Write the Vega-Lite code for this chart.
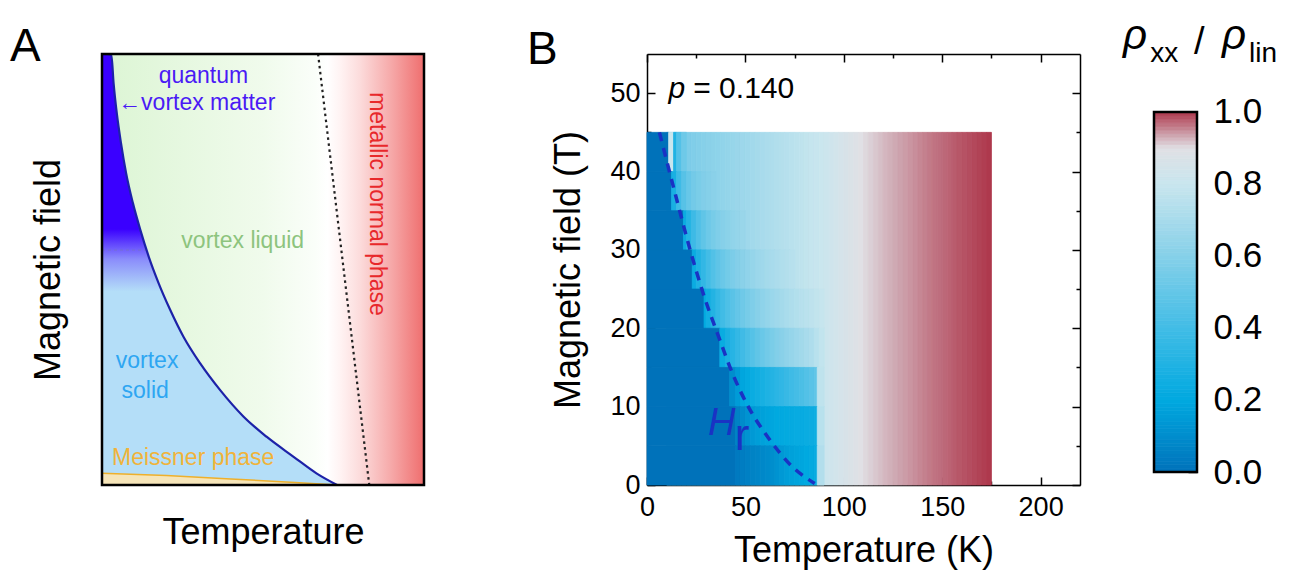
{
  "$schema": "https://vega.github.io/schema/vega-lite/v6.json",
  "background": "white",
  "padding": {"left": 10, "top": 14, "right": 5, "bottom": 5},
  "spacing": 74,
  "bounds": "flush",
  "config": {
    "font": "Liberation Sans",
    "view": {"stroke": null},
    "axis": {"grid": false, "labelFlush": false, "labelOverlap": false, "zindex": 1, "domainColor": "#000", "tickColor": "#000", "labelColor": "#000", "titleColor": "#000", "titleFontWeight": "normal", "titleFont": "Liberation Sans", "labelFont": "Liberation Sans", "domainWidth": 1.5, "tickWidth": 1.5},
    "title": {"fontWeight": "normal", "color": "#000", "font": "Liberation Sans"},
    "text": {"font": "Liberation Sans"}
  },
  "datasets": {
    "box": [{"x": 0, "x2": 1, "y": 0, "y2": 1}],
    "curve": [
      {"x": 0, "y": 1}, {"x": 0.029, "y": 0.998}, {"x": 0.036, "y": 0.932}, {"x": 0.046, "y": 0.862}, {"x": 0.059, "y": 0.793}, {"x": 0.075, "y": 0.723}, {"x": 0.096, "y": 0.654}, {"x": 0.119, "y": 0.592}, {"x": 0.145, "y": 0.53}, {"x": 0.176, "y": 0.468}, {"x": 0.212, "y": 0.406}, {"x": 0.253, "y": 0.344}, {"x": 0.305, "y": 0.282}, {"x": 0.367, "y": 0.22}, {"x": 0.439, "y": 0.159}, {"x": 0.511, "y": 0.112}, {"x": 0.594, "y": 0.066}, {"x": 0.666, "y": 0.027}, {"x": 0.73, "y": 0}
    ],
    "quantum": [
      {"x": 0, "y": 1}, {"x": 0.029, "y": 0.998}, {"x": 0.036, "y": 0.932}, {"x": 0.046, "y": 0.862}, {"x": 0.059, "y": 0.793}, {"x": 0.075, "y": 0.723}, {"x": 0.096, "y": 0.654}, {"x": 0.119, "y": 0.592}, {"x": 0.145, "y": 0.53}, {"x": 0.176, "y": 0.468}, {"x": 0.2, "y": 0.42}
    ],
    "meissner": [
      {"x": 0, "y": 0.027}, {"x": 0.2, "y": 0.022}, {"x": 0.4, "y": 0.014}, {"x": 0.6, "y": 0.006}, {"x": 0.73, "y": 0}
    ],
    "crossover": [{"x": 0.671, "y": 1}, {"x": 0.83, "y": 0}],
    "hr": [
      {"T": 6.3, "H": 45}, {"T": 14.5, "H": 37}, {"T": 21.8, "H": 30.1}, {"T": 29, "H": 24.1}, {"T": 36.3, "H": 19}, {"T": 43.5, "H": 14.2}, {"T": 50.8, "H": 10.3}, {"T": 61.7, "H": 6}, {"T": 74.4, "H": 2.2}, {"T": 85.2, "H": 0.2}
    ],
    "heat": [
      {"t": 10, "t2": 12.5, "h": 0, "h2": 45, "r": 0.54}, {"t": 12.5, "t2": 15, "h": 0, "h2": 45, "r": 0.549}, {"t": 15, "t2": 17.5, "h": 0, "h2": 45, "r": 0.557}, {"t": 17.5, "t2": 20, "h": 0, "h2": 45, "r": 0.566}, {"t": 20, "t2": 22.5, "h": 0, "h2": 45, "r": 0.574}, {"t": 22.5, "t2": 25, "h": 0, "h2": 45, "r": 0.583}, {"t": 25, "t2": 27.5, "h": 0, "h2": 45, "r": 0.591}, {"t": 27.5, "t2": 30, "h": 0, "h2": 45, "r": 0.6}, {"t": 30, "t2": 32.5, "h": 0, "h2": 45, "r": 0.608}, {"t": 32.5, "t2": 35, "h": 0, "h2": 45, "r": 0.617}, {"t": 35, "t2": 37.5, "h": 0, "h2": 45, "r": 0.625}, {"t": 37.5, "t2": 40, "h": 0, "h2": 45, "r": 0.634}, {"t": 40, "t2": 42.5, "h": 0, "h2": 45, "r": 0.642}, {"t": 42.5, "t2": 45, "h": 0, "h2": 45, "r": 0.651}, {"t": 45, "t2": 47.5, "h": 0, "h2": 45, "r": 0.659}, {"t": 47.5, "t2": 50, "h": 0, "h2": 45, "r": 0.668}, {"t": 50, "t2": 52.5, "h": 0, "h2": 45, "r": 0.676}, {"t": 52.5, "t2": 55, "h": 0, "h2": 45, "r": 0.685}, {"t": 55, "t2": 57.5, "h": 0, "h2": 45, "r": 0.693}, {"t": 57.5, "t2": 60, "h": 0, "h2": 45, "r": 0.702}, {"t": 60, "t2": 62.5, "h": 0, "h2": 45, "r": 0.71}, {"t": 62.5, "t2": 65, "h": 0, "h2": 45, "r": 0.719}, {"t": 65, "t2": 67.5, "h": 0, "h2": 45, "r": 0.727}, {"t": 67.5, "t2": 70, "h": 0, "h2": 45, "r": 0.736}, {"t": 70, "t2": 72.5, "h": 0, "h2": 45, "r": 0.744}, {"t": 72.5, "t2": 75, "h": 0, "h2": 45, "r": 0.753}, {"t": 75, "t2": 77.5, "h": 0, "h2": 45, "r": 0.761}, {"t": 77.5, "t2": 80, "h": 0, "h2": 45, "r": 0.77}, {"t": 80, "t2": 82.5, "h": 0, "h2": 45, "r": 0.778}, {"t": 82.5, "t2": 85, "h": 0, "h2": 45, "r": 0.787}, {"t": 85, "t2": 87.5, "h": 0, "h2": 45, "r": 0.795}, {"t": 87.5, "t2": 90, "h": 0, "h2": 45, "r": 0.804},
      {"t": 90, "t2": 92.5, "h": 0, "h2": 45, "r": 0.815}, {"t": 92.5, "t2": 95, "h": 0, "h2": 45, "r": 0.826}, {"t": 95, "t2": 97.5, "h": 0, "h2": 45, "r": 0.838}, {"t": 97.5, "t2": 100, "h": 0, "h2": 45, "r": 0.85}, {"t": 100, "t2": 102.5, "h": 0, "h2": 45, "r": 0.862}, {"t": 102.5, "t2": 105, "h": 0, "h2": 45, "r": 0.875}, {"t": 105, "t2": 107.5, "h": 0, "h2": 45, "r": 0.888}, {"t": 107.5, "t2": 110, "h": 0, "h2": 45, "r": 0.898}, {"t": 110, "t2": 112.5, "h": 0, "h2": 45, "r": 0.905}, {"t": 112.5, "t2": 115, "h": 0, "h2": 45, "r": 0.91}, {"t": 115, "t2": 117.5, "h": 0, "h2": 45, "r": 0.915}, {"t": 117.5, "t2": 120, "h": 0, "h2": 45, "r": 0.92}, {"t": 120, "t2": 122.5, "h": 0, "h2": 45, "r": 0.925}, {"t": 122.5, "t2": 125, "h": 0, "h2": 45, "r": 0.929}, {"t": 125, "t2": 127.5, "h": 0, "h2": 45, "r": 0.933}, {"t": 127.5, "t2": 130, "h": 0, "h2": 45, "r": 0.937}, {"t": 130, "t2": 132.5, "h": 0, "h2": 45, "r": 0.941}, {"t": 132.5, "t2": 135, "h": 0, "h2": 45, "r": 0.945}, {"t": 135, "t2": 137.5, "h": 0, "h2": 45, "r": 0.949}, {"t": 137.5, "t2": 140, "h": 0, "h2": 45, "r": 0.953}, {"t": 140, "t2": 142.5, "h": 0, "h2": 45, "r": 0.957}, {"t": 142.5, "t2": 145, "h": 0, "h2": 45, "r": 0.961}, {"t": 145, "t2": 147.5, "h": 0, "h2": 45, "r": 0.965}, {"t": 147.5, "t2": 150, "h": 0, "h2": 45, "r": 0.968}, {"t": 150, "t2": 152.5, "h": 0, "h2": 45, "r": 0.972}, {"t": 152.5, "t2": 155, "h": 0, "h2": 45, "r": 0.975}, {"t": 155, "t2": 157.5, "h": 0, "h2": 45, "r": 0.979}, {"t": 157.5, "t2": 160, "h": 0, "h2": 45, "r": 0.982}, {"t": 160, "t2": 162.5, "h": 0, "h2": 45, "r": 0.985}, {"t": 162.5, "t2": 165, "h": 0, "h2": 45, "r": 0.988}, {"t": 165, "t2": 167.5, "h": 0, "h2": 45, "r": 0.991}, {"t": 167.5, "t2": 170, "h": 0, "h2": 45, "r": 0.994}, {"t": 170, "t2": 172.5, "h": 0, "h2": 45, "r": 0.997}, {"t": 172.5, "t2": 175, "h": 0, "h2": 45, "r": 1.0},
      {"t": 0, "t2": 11, "h": 40, "h2": 45, "r": 0}, {"t": 11, "t2": 13.5, "h": 40, "h2": 45, "r": 0.8}, {"t": 13.5, "t2": 15, "h": 40, "h2": 45, "r": 0.3}, {"t": 15, "t2": 17.5, "h": 40, "h2": 45, "r": 0.45}, {"t": 17.5, "t2": 20, "h": 40, "h2": 45, "r": 0.53},
      {"t": 0, "t2": 12.5, "h": 35, "h2": 40, "r": 0}, {"t": 12.5, "t2": 15, "h": 35, "h2": 40, "r": 0.277}, {"t": 15, "t2": 17.5, "h": 35, "h2": 40, "r": 0.388}, {"t": 17.5, "t2": 20, "h": 35, "h2": 40, "r": 0.461}, {"t": 20, "t2": 22.5, "h": 35, "h2": 40, "r": 0.509}, {"t": 22.5, "t2": 25, "h": 35, "h2": 40, "r": 0.543}, {"t": 25, "t2": 27.5, "h": 35, "h2": 40, "r": 0.566}, {"t": 27.5, "t2": 30, "h": 35, "h2": 40, "r": 0.584}, {"t": 30, "t2": 32.5, "h": 35, "h2": 40, "r": 0.598}, {"t": 32.5, "t2": 35, "h": 35, "h2": 40, "r": 0.611},
      {"t": 0, "t2": 18.5, "h": 30, "h2": 35, "r": 0}, {"t": 18.5, "t2": 20, "h": 30, "h2": 35, "r": 0.233}, {"t": 20, "t2": 22.5, "h": 30, "h2": 35, "r": 0.309}, {"t": 22.5, "t2": 25, "h": 30, "h2": 35, "r": 0.384}, {"t": 25, "t2": 27.5, "h": 30, "h2": 35, "r": 0.442}, {"t": 27.5, "t2": 30, "h": 30, "h2": 35, "r": 0.489}, {"t": 30, "t2": 32.5, "h": 30, "h2": 35, "r": 0.525}, {"t": 32.5, "t2": 35, "h": 30, "h2": 35, "r": 0.555}, {"t": 35, "t2": 37.5, "h": 30, "h2": 35, "r": 0.579}, {"t": 37.5, "t2": 40, "h": 30, "h2": 35, "r": 0.599}, {"t": 40, "t2": 42.5, "h": 30, "h2": 35, "r": 0.616}, {"t": 42.5, "t2": 45, "h": 30, "h2": 35, "r": 0.632}, {"t": 45, "t2": 47.5, "h": 30, "h2": 35, "r": 0.645}, {"t": 47.5, "t2": 50, "h": 30, "h2": 35, "r": 0.657},
      {"t": 0, "t2": 23, "h": 25, "h2": 30, "r": 0}, {"t": 23, "t2": 25, "h": 25, "h2": 30, "r": 0.231}, {"t": 25, "t2": 27.5, "h": 25, "h2": 30, "r": 0.293}, {"t": 27.5, "t2": 30, "h": 25, "h2": 30, "r": 0.352}, {"t": 30, "t2": 32.5, "h": 25, "h2": 30, "r": 0.403}, {"t": 32.5, "t2": 35, "h": 25, "h2": 30, "r": 0.447}, {"t": 35, "t2": 37.5, "h": 25, "h2": 30, "r": 0.484}, {"t": 37.5, "t2": 40, "h": 25, "h2": 30, "r": 0.517}, {"t": 40, "t2": 42.5, "h": 25, "h2": 30, "r": 0.545}, {"t": 42.5, "t2": 45, "h": 25, "h2": 30, "r": 0.571}, {"t": 45, "t2": 47.5, "h": 25, "h2": 30, "r": 0.593}, {"t": 47.5, "t2": 50, "h": 25, "h2": 30, "r": 0.613}, {"t": 50, "t2": 52.5, "h": 25, "h2": 30, "r": 0.631}, {"t": 52.5, "t2": 55, "h": 25, "h2": 30, "r": 0.646}, {"t": 55, "t2": 57.5, "h": 25, "h2": 30, "r": 0.662}, {"t": 57.5, "t2": 60, "h": 25, "h2": 30, "r": 0.676}, {"t": 60, "t2": 62.5, "h": 25, "h2": 30, "r": 0.689}, {"t": 62.5, "t2": 65, "h": 25, "h2": 30, "r": 0.701}, {"t": 65, "t2": 67.5, "h": 25, "h2": 30, "r": 0.713}, {"t": 67.5, "t2": 70, "h": 25, "h2": 30, "r": 0.724}, {"t": 70, "t2": 72.5, "h": 25, "h2": 30, "r": 0.734}, {"t": 72.5, "t2": 75, "h": 25, "h2": 30, "r": 0.745},
      {"t": 0, "t2": 29, "h": 20, "h2": 25, "r": 0}, {"t": 29, "t2": 30, "h": 20, "h2": 25, "r": 0.2}, {"t": 30, "t2": 32.5, "h": 20, "h2": 25, "r": 0.253}, {"t": 32.5, "t2": 35, "h": 20, "h2": 25, "r": 0.307}, {"t": 35, "t2": 37.5, "h": 20, "h2": 25, "r": 0.355}, {"t": 37.5, "t2": 40, "h": 20, "h2": 25, "r": 0.398}, {"t": 40, "t2": 42.5, "h": 20, "h2": 25, "r": 0.436}, {"t": 42.5, "t2": 45, "h": 20, "h2": 25, "r": 0.471}, {"t": 45, "t2": 47.5, "h": 20, "h2": 25, "r": 0.503}, {"t": 47.5, "t2": 50, "h": 20, "h2": 25, "r": 0.532}, {"t": 50, "t2": 52.5, "h": 20, "h2": 25, "r": 0.557}, {"t": 52.5, "t2": 55, "h": 20, "h2": 25, "r": 0.58}, {"t": 55, "t2": 57.5, "h": 20, "h2": 25, "r": 0.603}, {"t": 57.5, "t2": 60, "h": 20, "h2": 25, "r": 0.624}, {"t": 60, "t2": 62.5, "h": 20, "h2": 25, "r": 0.642}, {"t": 62.5, "t2": 65, "h": 20, "h2": 25, "r": 0.66}, {"t": 65, "t2": 67.5, "h": 20, "h2": 25, "r": 0.675}, {"t": 67.5, "t2": 70, "h": 20, "h2": 25, "r": 0.691}, {"t": 70, "t2": 72.5, "h": 20, "h2": 25, "r": 0.705}, {"t": 72.5, "t2": 75, "h": 20, "h2": 25, "r": 0.719}, {"t": 75, "t2": 77.5, "h": 20, "h2": 25, "r": 0.732}, {"t": 77.5, "t2": 80, "h": 20, "h2": 25, "r": 0.745}, {"t": 80, "t2": 82.5, "h": 20, "h2": 25, "r": 0.756}, {"t": 82.5, "t2": 85, "h": 20, "h2": 25, "r": 0.768}, {"t": 85, "t2": 87.5, "h": 20, "h2": 25, "r": 0.778}, {"t": 87.5, "t2": 90, "h": 20, "h2": 25, "r": 0.79},
      {"t": 0, "t2": 37, "h": 15, "h2": 20, "r": 0}, {"t": 37, "t2": 40, "h": 15, "h2": 20, "r": 0.228}, {"t": 40, "t2": 42.5, "h": 15, "h2": 20, "r": 0.278}, {"t": 42.5, "t2": 45, "h": 15, "h2": 20, "r": 0.319}, {"t": 45, "t2": 47.5, "h": 15, "h2": 20, "r": 0.357}, {"t": 47.5, "t2": 50, "h": 15, "h2": 20, "r": 0.394}, {"t": 50, "t2": 52.5, "h": 15, "h2": 20, "r": 0.427}, {"t": 52.5, "t2": 55, "h": 15, "h2": 20, "r": 0.457}, {"t": 55, "t2": 57.5, "h": 15, "h2": 20, "r": 0.487}, {"t": 57.5, "t2": 60, "h": 15, "h2": 20, "r": 0.515}, {"t": 60, "t2": 62.5, "h": 15, "h2": 20, "r": 0.541}, {"t": 62.5, "t2": 65, "h": 15, "h2": 20, "r": 0.565}, {"t": 65, "t2": 67.5, "h": 15, "h2": 20, "r": 0.587}, {"t": 67.5, "t2": 70, "h": 15, "h2": 20, "r": 0.61}, {"t": 70, "t2": 72.5, "h": 15, "h2": 20, "r": 0.629}, {"t": 72.5, "t2": 75, "h": 15, "h2": 20, "r": 0.649}, {"t": 75, "t2": 77.5, "h": 15, "h2": 20, "r": 0.667}, {"t": 77.5, "t2": 80, "h": 15, "h2": 20, "r": 0.685}, {"t": 80, "t2": 82.5, "h": 15, "h2": 20, "r": 0.701}, {"t": 82.5, "t2": 85, "h": 15, "h2": 20, "r": 0.72}, {"t": 85, "t2": 87.5, "h": 15, "h2": 20, "r": 0.75}, {"t": 87.5, "t2": 90, "h": 15, "h2": 20, "r": 0.78},
      {"t": 0, "t2": 42, "h": 10, "h2": 15, "r": 0}, {"t": 42, "t2": 45, "h": 10, "h2": 15, "r": 0.1}, {"t": 45, "t2": 47.5, "h": 10, "h2": 15, "r": 0.15}, {"t": 47.5, "t2": 50, "h": 10, "h2": 15, "r": 0.19}, {"t": 50, "t2": 52.5, "h": 10, "h2": 15, "r": 0.21}, {"t": 52.5, "t2": 55, "h": 10, "h2": 15, "r": 0.23}, {"t": 55, "t2": 57.5, "h": 10, "h2": 15, "r": 0.25}, {"t": 57.5, "t2": 60, "h": 10, "h2": 15, "r": 0.27}, {"t": 60, "t2": 62.5, "h": 10, "h2": 15, "r": 0.29}, {"t": 62.5, "t2": 65, "h": 10, "h2": 15, "r": 0.31}, {"t": 65, "t2": 67.5, "h": 10, "h2": 15, "r": 0.33}, {"t": 67.5, "t2": 70, "h": 10, "h2": 15, "r": 0.35}, {"t": 70, "t2": 72.5, "h": 10, "h2": 15, "r": 0.37}, {"t": 72.5, "t2": 75, "h": 10, "h2": 15, "r": 0.39}, {"t": 75, "t2": 77.5, "h": 10, "h2": 15, "r": 0.41}, {"t": 77.5, "t2": 80, "h": 10, "h2": 15, "r": 0.43}, {"t": 80, "t2": 82.5, "h": 10, "h2": 15, "r": 0.45}, {"t": 82.5, "t2": 85, "h": 10, "h2": 15, "r": 0.47}, {"t": 85, "t2": 86.5, "h": 10, "h2": 15, "r": 0.49}, {"t": 86.5, "t2": 90, "h": 10, "h2": 15, "r": 0.77},
      {"t": 0, "t2": 45, "h": 5, "h2": 10, "r": 0}, {"t": 45, "t2": 47.5, "h": 5, "h2": 10, "r": 0.06}, {"t": 47.5, "t2": 50, "h": 5, "h2": 10, "r": 0.09}, {"t": 50, "t2": 52.5, "h": 5, "h2": 10, "r": 0.12}, {"t": 52.5, "t2": 55, "h": 5, "h2": 10, "r": 0.14}, {"t": 55, "t2": 57.5, "h": 5, "h2": 10, "r": 0.16}, {"t": 57.5, "t2": 60, "h": 5, "h2": 10, "r": 0.17}, {"t": 60, "t2": 62.5, "h": 5, "h2": 10, "r": 0.18}, {"t": 62.5, "t2": 65, "h": 5, "h2": 10, "r": 0.19}, {"t": 65, "t2": 67.5, "h": 5, "h2": 10, "r": 0.2}, {"t": 67.5, "t2": 70, "h": 5, "h2": 10, "r": 0.205}, {"t": 70, "t2": 72.5, "h": 5, "h2": 10, "r": 0.21}, {"t": 72.5, "t2": 75, "h": 5, "h2": 10, "r": 0.215}, {"t": 75, "t2": 77.5, "h": 5, "h2": 10, "r": 0.22}, {"t": 77.5, "t2": 80, "h": 5, "h2": 10, "r": 0.225}, {"t": 80, "t2": 82.5, "h": 5, "h2": 10, "r": 0.23}, {"t": 82.5, "t2": 85, "h": 5, "h2": 10, "r": 0.235}, {"t": 85, "t2": 86.5, "h": 5, "h2": 10, "r": 0.24}, {"t": 86.5, "t2": 90, "h": 5, "h2": 10, "r": 0.75},
      {"t": 0, "t2": 45, "h": 0, "h2": 5, "r": 0}, {"t": 45, "t2": 47.5, "h": 0, "h2": 5, "r": 0.03}, {"t": 47.5, "t2": 50, "h": 0, "h2": 5, "r": 0.04}, {"t": 50, "t2": 52.5, "h": 0, "h2": 5, "r": 0.05}, {"t": 52.5, "t2": 55, "h": 0, "h2": 5, "r": 0.06}, {"t": 55, "t2": 57.5, "h": 0, "h2": 5, "r": 0.07}, {"t": 57.5, "t2": 60, "h": 0, "h2": 5, "r": 0.08}, {"t": 60, "t2": 62.5, "h": 0, "h2": 5, "r": 0.09}, {"t": 62.5, "t2": 65, "h": 0, "h2": 5, "r": 0.1}, {"t": 65, "t2": 67.5, "h": 0, "h2": 5, "r": 0.12}, {"t": 67.5, "t2": 70, "h": 0, "h2": 5, "r": 0.14}, {"t": 70, "t2": 72.5, "h": 0, "h2": 5, "r": 0.16}, {"t": 72.5, "t2": 75, "h": 0, "h2": 5, "r": 0.17}, {"t": 75, "t2": 77.5, "h": 0, "h2": 5, "r": 0.18}, {"t": 77.5, "t2": 80, "h": 0, "h2": 5, "r": 0.19}, {"t": 80, "t2": 82.5, "h": 0, "h2": 5, "r": 0.2}, {"t": 82.5, "t2": 85, "h": 0, "h2": 5, "r": 0.21}, {"t": 85, "t2": 86.5, "h": 0, "h2": 5, "r": 0.22}, {"t": 86.5, "t2": 90, "h": 0, "h2": 5, "r": 0.73}
    ],
    "cbar": [
      {"lo": 0, "hi": 0.01, "v": 0.005}, {"lo": 0.01, "hi": 0.02, "v": 0.015}, {"lo": 0.02, "hi": 0.03, "v": 0.025}, {"lo": 0.03, "hi": 0.04, "v": 0.035}, {"lo": 0.04, "hi": 0.05, "v": 0.045}, {"lo": 0.05, "hi": 0.06, "v": 0.055}, {"lo": 0.06, "hi": 0.07, "v": 0.065}, {"lo": 0.07, "hi": 0.08, "v": 0.075}, {"lo": 0.08, "hi": 0.09, "v": 0.085}, {"lo": 0.09, "hi": 0.1, "v": 0.095},
      {"lo": 0.1, "hi": 0.11, "v": 0.105}, {"lo": 0.11, "hi": 0.12, "v": 0.115}, {"lo": 0.12, "hi": 0.13, "v": 0.125}, {"lo": 0.13, "hi": 0.14, "v": 0.135}, {"lo": 0.14, "hi": 0.15, "v": 0.145}, {"lo": 0.15, "hi": 0.16, "v": 0.155}, {"lo": 0.16, "hi": 0.17, "v": 0.165}, {"lo": 0.17, "hi": 0.18, "v": 0.175}, {"lo": 0.18, "hi": 0.19, "v": 0.185}, {"lo": 0.19, "hi": 0.2, "v": 0.195},
      {"lo": 0.2, "hi": 0.21, "v": 0.205}, {"lo": 0.21, "hi": 0.22, "v": 0.215}, {"lo": 0.22, "hi": 0.23, "v": 0.225}, {"lo": 0.23, "hi": 0.24, "v": 0.235}, {"lo": 0.24, "hi": 0.25, "v": 0.245}, {"lo": 0.25, "hi": 0.26, "v": 0.255}, {"lo": 0.26, "hi": 0.27, "v": 0.265}, {"lo": 0.27, "hi": 0.28, "v": 0.275}, {"lo": 0.28, "hi": 0.29, "v": 0.285}, {"lo": 0.29, "hi": 0.3, "v": 0.295},
      {"lo": 0.3, "hi": 0.31, "v": 0.305}, {"lo": 0.31, "hi": 0.32, "v": 0.315}, {"lo": 0.32, "hi": 0.33, "v": 0.325}, {"lo": 0.33, "hi": 0.34, "v": 0.335}, {"lo": 0.34, "hi": 0.35, "v": 0.345}, {"lo": 0.35, "hi": 0.36, "v": 0.355}, {"lo": 0.36, "hi": 0.37, "v": 0.365}, {"lo": 0.37, "hi": 0.38, "v": 0.375}, {"lo": 0.38, "hi": 0.39, "v": 0.385}, {"lo": 0.39, "hi": 0.4, "v": 0.395},
      {"lo": 0.4, "hi": 0.41, "v": 0.405}, {"lo": 0.41, "hi": 0.42, "v": 0.415}, {"lo": 0.42, "hi": 0.43, "v": 0.425}, {"lo": 0.43, "hi": 0.44, "v": 0.435}, {"lo": 0.44, "hi": 0.45, "v": 0.445}, {"lo": 0.45, "hi": 0.46, "v": 0.455}, {"lo": 0.46, "hi": 0.47, "v": 0.465}, {"lo": 0.47, "hi": 0.48, "v": 0.475}, {"lo": 0.48, "hi": 0.49, "v": 0.485}, {"lo": 0.49, "hi": 0.5, "v": 0.495},
      {"lo": 0.5, "hi": 0.51, "v": 0.505}, {"lo": 0.51, "hi": 0.52, "v": 0.515}, {"lo": 0.52, "hi": 0.53, "v": 0.525}, {"lo": 0.53, "hi": 0.54, "v": 0.535}, {"lo": 0.54, "hi": 0.55, "v": 0.545}, {"lo": 0.55, "hi": 0.56, "v": 0.555}, {"lo": 0.56, "hi": 0.57, "v": 0.565}, {"lo": 0.57, "hi": 0.58, "v": 0.575}, {"lo": 0.58, "hi": 0.59, "v": 0.585}, {"lo": 0.59, "hi": 0.6, "v": 0.595},
      {"lo": 0.6, "hi": 0.61, "v": 0.605}, {"lo": 0.61, "hi": 0.62, "v": 0.615}, {"lo": 0.62, "hi": 0.63, "v": 0.625}, {"lo": 0.63, "hi": 0.64, "v": 0.635}, {"lo": 0.64, "hi": 0.65, "v": 0.645}, {"lo": 0.65, "hi": 0.66, "v": 0.655}, {"lo": 0.66, "hi": 0.67, "v": 0.665}, {"lo": 0.67, "hi": 0.68, "v": 0.675}, {"lo": 0.68, "hi": 0.69, "v": 0.685}, {"lo": 0.69, "hi": 0.7, "v": 0.695},
      {"lo": 0.7, "hi": 0.71, "v": 0.705}, {"lo": 0.71, "hi": 0.72, "v": 0.715}, {"lo": 0.72, "hi": 0.73, "v": 0.725}, {"lo": 0.73, "hi": 0.74, "v": 0.735}, {"lo": 0.74, "hi": 0.75, "v": 0.745}, {"lo": 0.75, "hi": 0.76, "v": 0.755}, {"lo": 0.76, "hi": 0.77, "v": 0.765}, {"lo": 0.77, "hi": 0.78, "v": 0.775}, {"lo": 0.78, "hi": 0.79, "v": 0.785}, {"lo": 0.79, "hi": 0.8, "v": 0.795},
      {"lo": 0.8, "hi": 0.81, "v": 0.805}, {"lo": 0.81, "hi": 0.82, "v": 0.815}, {"lo": 0.82, "hi": 0.83, "v": 0.825}, {"lo": 0.83, "hi": 0.84, "v": 0.835}, {"lo": 0.84, "hi": 0.85, "v": 0.845}, {"lo": 0.85, "hi": 0.86, "v": 0.855}, {"lo": 0.86, "hi": 0.87, "v": 0.865}, {"lo": 0.87, "hi": 0.88, "v": 0.875}, {"lo": 0.88, "hi": 0.89, "v": 0.885}, {"lo": 0.89, "hi": 0.9, "v": 0.895},
      {"lo": 0.9, "hi": 0.91, "v": 0.905}, {"lo": 0.91, "hi": 0.92, "v": 0.915}, {"lo": 0.92, "hi": 0.93, "v": 0.925}, {"lo": 0.93, "hi": 0.94, "v": 0.935}, {"lo": 0.94, "hi": 0.95, "v": 0.945}, {"lo": 0.95, "hi": 0.96, "v": 0.955}, {"lo": 0.96, "hi": 0.97, "v": 0.965}, {"lo": 0.97, "hi": 0.98, "v": 0.975}, {"lo": 0.98, "hi": 0.99, "v": 0.985}, {"lo": 0.99, "hi": 1.0, "v": 0.995}
    ]
  },
  "hconcat": [
    {
      "width": 322, "height": 431,
      "title": {"text": "A", "anchor": "start", "frame": "group", "fontSize": 46, "baseline": "alphabetic", "offset": 0, "dx": -92, "dy": 57},
      "layer": [
        {
          "data": {"name": "box"},
          "mark": {"type": "rect", "color": {"gradient": "linear", "x1": 0, "y1": 0, "x2": 1, "y2": 0, "stops": [
            {"offset": 0, "color": "#dcf5d4"}, {"offset": 0.25, "color": "#e6f8e0"}, {"offset": 0.5, "color": "#f0fbec"}, {"offset": 0.66, "color": "#fafef9"}, {"offset": 0.7, "color": "#ffffff"}, {"offset": 0.74, "color": "#fff3f3"}, {"offset": 0.8, "color": "#fcdcdc"}, {"offset": 0.9, "color": "#f6a8a8"}, {"offset": 1, "color": "#ef6e6e"}]}},
          "encoding": {
            "x": {"field": "x", "type": "quantitative", "scale": {"domain": [0, 1], "nice": false, "zero": false}, "axis": {"title": "Temperature", "labels": false, "ticks": false, "domain": false, "titleFontSize": 36, "titlePadding": 30}},
            "x2": {"field": "x2"},
            "y": {"field": "y", "type": "quantitative", "scale": {"domain": [0, 1], "nice": false, "zero": false}, "axis": {"title": "Magnetic field", "labels": false, "ticks": false, "domain": false, "titleFontSize": 36, "titlePadding": 35}},
            "y2": {"field": "y2"}
          }
        },
        {
          "data": {"name": "curve"},
          "mark": {"type": "area", "color": "#b4def8"},
          "encoding": {"x": {"field": "x", "type": "quantitative"}, "y": {"field": "y", "type": "quantitative"}, "y2": {"datum": 0}}
        },
        {
          "data": {"name": "quantum"},
          "mark": {"type": "area", "color": {"gradient": "linear", "x1": 0, "y1": 0, "x2": 0, "y2": 1, "stops": [
            {"offset": 0, "color": "#3a00ff"}, {"offset": 0.7, "color": "#3a00ff"}, {"offset": 0.82, "color": "#8a8cfb"}, {"offset": 0.95, "color": "#b4def8"}, {"offset": 1, "color": "#b4def8"}]}},
          "encoding": {"x": {"field": "x", "type": "quantitative"}, "y": {"field": "y", "type": "quantitative"}, "y2": {"datum": 0.42}}
        },
        {
          "data": {"values": [{"x": 0, "x2": 0.142, "y": 0.545}]},
          "mark": {"type": "rule", "color": "#7777bb", "strokeWidth": 1, "strokeDash": [3, 3], "opacity": 0.6},
          "encoding": {"x": {"field": "x", "type": "quantitative"}, "x2": {"field": "x2"}, "y": {"field": "y", "type": "quantitative"}}
        },
        {
          "data": {"name": "meissner"},
          "mark": {"type": "area", "color": "#f6e5b9"},
          "encoding": {"x": {"field": "x", "type": "quantitative"}, "y": {"field": "y", "type": "quantitative"}, "y2": {"datum": 0}}
        },
        {
          "data": {"name": "meissner"},
          "mark": {"type": "line", "color": "#eeb02c", "strokeWidth": 1.5},
          "encoding": {"x": {"field": "x", "type": "quantitative"}, "y": {"field": "y", "type": "quantitative"}}
        },
        {
          "data": {"name": "curve"},
          "mark": {"type": "line", "color": "#1d22a8", "strokeWidth": 2.2, "interpolate": "monotone"},
          "encoding": {"x": {"field": "x", "type": "quantitative"}, "y": {"field": "y", "type": "quantitative"}}
        },
        {
          "data": {"name": "crossover"},
          "mark": {"type": "line", "color": "#222", "strokeWidth": 2.2, "strokeDash": [2.5, 3.5]},
          "encoding": {"x": {"field": "x", "type": "quantitative"}, "y": {"field": "y", "type": "quantitative"}}
        },
        {
          "data": {"values": [{"x": 0.315, "y": 0.932, "label": "quantum"}]},
          "mark": {"type": "text", "fontSize": 23, "color": "#4a1af5", "align": "center", "baseline": "alphabetic"},
          "encoding": {"x": {"field": "x", "type": "quantitative"}, "y": {"field": "y", "type": "quantitative"}, "text": {"field": "label"}}
        },
        {
          "data": {"values": [{"x": 0.05, "y": 0.87, "label": "←vortex matter"}]},
          "mark": {"type": "text", "fontSize": 23, "color": "#4a1af5", "align": "left", "baseline": "alphabetic"},
          "encoding": {"x": {"field": "x", "type": "quantitative"}, "y": {"field": "y", "type": "quantitative"}, "text": {"field": "label"}}
        },
        {
          "data": {"values": [{"x": 0.437, "y": 0.549, "label": "vortex liquid"}]},
          "mark": {"type": "text", "fontSize": 23, "color": "#8dc47e", "align": "center", "baseline": "alphabetic"},
          "encoding": {"x": {"field": "x", "type": "quantitative"}, "y": {"field": "y", "type": "quantitative"}, "text": {"field": "label"}}
        },
        {
          "data": {"values": [{"x": 0.832, "y": 0.652, "label": "metallic normal phase"}]},
          "mark": {"type": "text", "fontSize": 23, "color": "#e8282b", "align": "center", "baseline": "alphabetic", "angle": 90},
          "encoding": {"x": {"field": "x", "type": "quantitative"}, "y": {"field": "y", "type": "quantitative"}, "text": {"field": "label"}}
        },
        {
          "data": {"values": [{"x": 0.14, "y": 0.271, "label": "vortex"}, {"x": 0.134, "y": 0.201, "label": "solid"}]},
          "mark": {"type": "text", "fontSize": 23, "color": "#2ea6f2", "align": "center", "baseline": "alphabetic"},
          "encoding": {"x": {"field": "x", "type": "quantitative"}, "y": {"field": "y", "type": "quantitative"}, "text": {"field": "label"}}
        },
        {
          "data": {"values": [{"x": 0.031, "y": 0.046, "label": "Meissner phase"}]},
          "mark": {"type": "text", "fontSize": 23, "color": "#f0b33a", "align": "left", "baseline": "alphabetic"},
          "encoding": {"x": {"field": "x", "type": "quantitative"}, "y": {"field": "y", "type": "quantitative"}, "text": {"field": "label"}}
        },
        {
          "data": {"name": "box"},
          "mark": {"type": "rect", "fillOpacity": 0, "stroke": "#000", "strokeWidth": 2.5},
          "encoding": {"x": {"field": "x", "type": "quantitative"}, "x2": {"field": "x2"}, "y": {"field": "y", "type": "quantitative"}, "y2": {"field": "y2"}}
        }
      ]
    },
    {
      "width": 75, "height": 431,
      "data": {"values": [{"a": 0}]},
      "mark": {"type": "point", "opacity": 0},
      "encoding": {}
    },
    {
      "width": 433, "height": 431,
      "title": {"text": "B", "anchor": "start", "frame": "group", "fontSize": 46, "baseline": "alphabetic", "offset": 0, "dx": -120, "dy": 57},
      "resolve": {"axis": {"x": "independent", "y": "independent"}},
      "layer": [
        {
          "data": {"name": "heat"},
          "mark": {"type": "rect", "strokeWidth": 0.8},
          "encoding": {
            "x": {"field": "t", "type": "quantitative", "scale": {"domain": [0, 220], "nice": false, "zero": false}, "axis": {"orient": "bottom", "values": [0, 50, 100, 150, 200], "tickSize": -8, "labelPadding": 17, "labelFontSize": 27, "title": "Temperature (K)", "titleFontSize": 36, "titlePadding": 13}},
            "x2": {"field": "t2"},
            "y": {"field": "h", "type": "quantitative", "scale": {"domain": [0, 55], "nice": false, "zero": false}, "axis": {"orient": "left", "values": [0, 10, 20, 30, 40, 50], "tickSize": -8, "labelPadding": 15, "labelFontSize": 27, "title": "Magnetic field (T)", "titleFontSize": 36, "titlePadding": 22}},
            "y2": {"field": "h2"},
            "fill": {"field": "r", "type": "quantitative", "legend": null, "scale": {"type": "linear", "domain": [0, 0.2, 0.4, 0.6, 0.8, 0.9, 1], "range": ["#0072ba", "#00a9e0", "#42bce6", "#86d0e9", "#c9e6ee", "#e0e0e5", "#ae394d"], "interpolate": "rgb"}},
            "stroke": {"field": "r", "type": "quantitative", "legend": null, "scale": {"type": "linear", "domain": [0, 0.2, 0.4, 0.6, 0.8, 0.9, 1], "range": ["#0072ba", "#00a9e0", "#42bce6", "#86d0e9", "#c9e6ee", "#e0e0e5", "#ae394d"], "interpolate": "rgb"}}
          }
        },
        {
          "data": {"name": "hr"},
          "mark": {"type": "line", "color": "#1a32c4", "strokeWidth": 3.5, "strokeDash": [9, 7], "interpolate": "monotone"},
          "encoding": {
            "x": {"field": "T", "type": "quantitative", "scale": {"domain": [0, 220], "nice": false, "zero": false}, "axis": {"orient": "top", "values": [0, 50, 100, 150, 200], "tickSize": -8, "labels": false, "title": null}},
            "y": {"field": "H", "type": "quantitative", "scale": {"domain": [0, 55], "nice": false, "zero": false}, "axis": {"orient": "right", "values": [0, 10, 20, 30, 40, 50], "tickSize": -8, "labels": false, "title": null}}
          }
        },
        {
          "data": {"values": [{"T": 10.9, "H": 49.4, "label": "p"}]},
          "mark": {"type": "text", "fontSize": 30, "fontStyle": "italic", "align": "left", "baseline": "alphabetic", "color": "#000"},
          "encoding": {
            "x": {"field": "T", "type": "quantitative", "scale": {"domain": [0, 220], "nice": false, "zero": false}, "axis": {"orient": "bottom", "values": [25, 75, 125, 175], "tickSize": -4, "labels": false, "domain": false, "title": null}},
            "y": {"field": "H", "type": "quantitative", "scale": {"domain": [0, 55], "nice": false, "zero": false}, "axis": {"orient": "left", "values": [5, 15, 25, 35, 45], "tickSize": -4, "labels": false, "domain": false, "title": null}},
            "text": {"field": "label"}
          }
        },
        {
          "data": {"values": [{"T": 23.5, "H": 49.4, "label": "= 0.140"}]},
          "mark": {"type": "text", "fontSize": 30, "align": "left", "baseline": "alphabetic", "color": "#000"},
          "encoding": {
            "x": {"field": "T", "type": "quantitative", "scale": {"domain": [0, 220], "nice": false, "zero": false}, "axis": {"orient": "top", "values": [25, 75, 125, 175], "tickSize": -4, "labels": false, "domain": false, "title": null}},
            "y": {"field": "H", "type": "quantitative", "scale": {"domain": [0, 55], "nice": false, "zero": false}, "axis": {"orient": "right", "values": [5, 15, 25, 35, 45], "tickSize": -4, "labels": false, "domain": false, "title": null}},
            "text": {"field": "label"}
          }
        },
        {
          "data": {"values": [{"T": 31, "H": 6.4, "label": "H"}]},
          "mark": {"type": "text", "fontSize": 38, "fontStyle": "italic", "align": "left", "baseline": "alphabetic", "color": "#1a32c4"},
          "encoding": {
            "x": {"field": "T", "type": "quantitative", "scale": {"domain": [0, 220], "nice": false, "zero": false}, "axis": null},
            "y": {"field": "H", "type": "quantitative", "scale": {"domain": [0, 55], "nice": false, "zero": false}, "axis": null},
            "text": {"field": "label"}
          }
        },
        {
          "data": {"values": [{"T": 44.6, "H": 4.5, "label": "r"}]},
          "mark": {"type": "text", "fontSize": 44, "align": "left", "baseline": "alphabetic", "color": "#1a32c4"},
          "encoding": {
            "x": {"field": "T", "type": "quantitative", "scale": {"domain": [0, 220], "nice": false, "zero": false}, "axis": null},
            "y": {"field": "H", "type": "quantitative", "scale": {"domain": [0, 55], "nice": false, "zero": false}, "axis": null},
            "text": {"field": "label"}
          }
        }
      ]
    },
    {
      "width": 43, "height": 418,
      "resolve": {"axis": {"y": "independent"}},
      "layer": [
        {
          "data": {"name": "cbar"},
          "mark": {"type": "rect", "strokeWidth": 0.8},
          "encoding": {
            "x": {"datum": 0, "type": "quantitative", "scale": {"domain": [0, 1], "nice": false, "zero": false}, "axis": null},
            "x2": {"datum": 1},
            "y": {"field": "lo", "type": "quantitative", "scale": {"domain": [0, 1.1611], "nice": false, "zero": false}, "axis": {"orient": "right", "values": [0, 0.2, 0.4, 0.6, 0.8, 1], "format": ".1f", "tickSize": -9, "labelPadding": 25, "labelFontSize": 35, "domain": false, "title": null}},
            "y2": {"field": "hi"},
            "fill": {"field": "v", "type": "quantitative", "legend": null, "scale": {"type": "linear", "domain": [0, 0.2, 0.4, 0.6, 0.8, 0.9, 1], "range": ["#0072ba", "#00a9e0", "#42bce6", "#86d0e9", "#c9e6ee", "#e0e0e5", "#ae394d"], "interpolate": "rgb"}},
            "stroke": {"field": "v", "type": "quantitative", "legend": null, "scale": {"type": "linear", "domain": [0, 0.2, 0.4, 0.6, 0.8, 0.9, 1], "range": ["#0072ba", "#00a9e0", "#42bce6", "#86d0e9", "#c9e6ee", "#e0e0e5", "#ae394d"], "interpolate": "rgb"}}
          }
        },
        {
          "data": {"values": [{"lo": 0, "hi": 1}]},
          "mark": {"type": "rect", "fillOpacity": 0, "stroke": "#000", "strokeWidth": 2.5},
          "encoding": {
            "x": {"datum": 0, "type": "quantitative", "scale": {"domain": [0, 1], "nice": false, "zero": false}, "axis": null},
            "x2": {"datum": 1},
            "y": {"field": "lo", "type": "quantitative", "scale": {"domain": [0, 1.1611], "nice": false, "zero": false}, "axis": {"orient": "left", "values": [0.2, 0.4, 0.6, 0.8], "tickSize": -9, "labels": false, "domain": false, "title": null}},
            "y2": {"field": "hi"}
          }
        },
        {
          "data": {"values": [{"x": -0.72, "y": 1.175, "label": "ρ"}, {"x": 1.58, "y": 1.175, "label": "ρ"}]},
          "mark": {"type": "text", "fontSize": 42, "fontStyle": "italic", "align": "left", "baseline": "alphabetic", "color": "#000"},
          "encoding": {
            "x": {"field": "x", "type": "quantitative", "scale": {"domain": [0, 1], "nice": false, "zero": false}, "axis": null},
            "y": {"field": "y", "type": "quantitative", "scale": {"domain": [0, 1.1611], "nice": false, "zero": false}, "axis": {"orient": "left", "values": [0.1, 0.3, 0.5, 0.7, 0.9], "tickSize": -5, "labels": false, "domain": false, "title": null}},
            "text": {"field": "label"}
          }
        },
        {
          "data": {"values": [{"x": -0.09, "y": 1.139, "label": "xx"}, {"x": 2.21, "y": 1.139, "label": "lin"}]},
          "mark": {"type": "text", "fontSize": 28, "align": "left", "baseline": "alphabetic", "color": "#000"},
          "encoding": {
            "x": {"field": "x", "type": "quantitative", "scale": {"domain": [0, 1], "nice": false, "zero": false}, "axis": null},
            "y": {"field": "y", "type": "quantitative", "scale": {"domain": [0, 1.1611], "nice": false, "zero": false}, "axis": {"orient": "right", "values": [0.1, 0.3, 0.5, 0.7, 0.9], "tickSize": -5, "labels": false, "domain": false, "title": null}},
            "text": {"field": "label"}
          }
        },
        {
          "data": {"values": [{"x": 0.93, "y": 1.161, "label": "/"}]},
          "mark": {"type": "text", "fontSize": 38, "align": "left", "baseline": "alphabetic", "color": "#000"},
          "encoding": {
            "x": {"field": "x", "type": "quantitative", "scale": {"domain": [0, 1], "nice": false, "zero": false}, "axis": null},
            "y": {"field": "y", "type": "quantitative", "scale": {"domain": [0, 1.1611], "nice": false, "zero": false}, "axis": null},
            "text": {"field": "label"}
          }
        }
      ]
    }
  ]
}
